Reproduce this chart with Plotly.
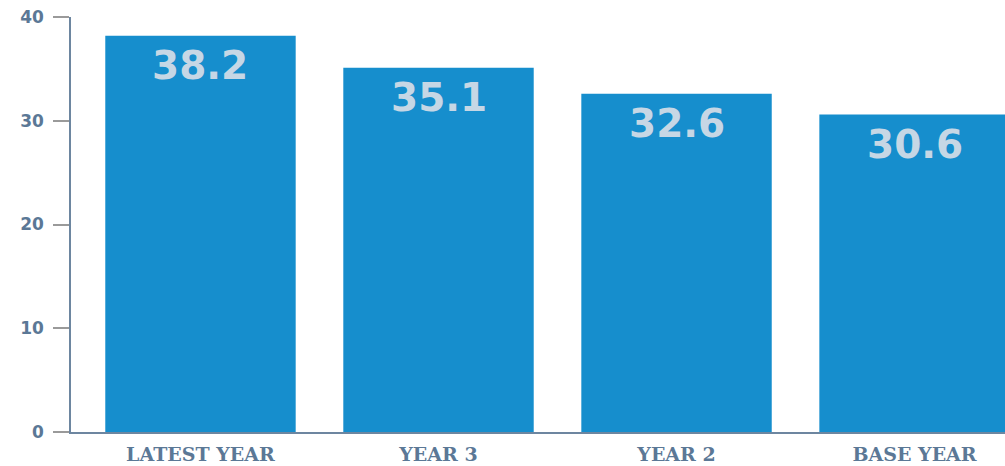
import plotly.graph_objects as go

categories = ["LATEST YEAR", "YEAR 3", "YEAR 2", "BASE YEAR"]
values = [38.2, 35.1, 32.6, 30.6]
tick_vals = [0, 10, 20, 30, 40]
tick_text = ["0", "10", "20", "30", "40"]

bar_color = "#168ecd"
label_color = "#c6d7e5"
axis_text = "#5b7896"

fig = go.Figure()
fig.add_trace(go.Bar(x=list(range(len(categories))), y=values, marker_color=bar_color,
                     marker_line_width=0, width=0.8, hoverinfo="skip"))

for i, v in enumerate(values):
    fig.add_annotation(x=i, y=v, text=f"{v:.1f}", showarrow=False, yanchor="top",
                       yshift=-5, font=dict(family="DejaVu Sans", size=39, color=label_color,
                                            weight="bold"))

fig.update_layout(
    width=1005, height=466,
    margin=dict(l=71, r=0, t=17, b=34),
    paper_bgcolor="white", plot_bgcolor="white",
    showlegend=False,
    bargap=0.2,
)
fig.update_xaxes(
    tickmode="array", tickvals=list(range(len(categories))), ticktext=categories,
    range=[-0.544, 3.380], showgrid=False, zeroline=False, automargin=False,
    showline=True, linecolor="#6d86a0", linewidth=1.5, ticks="",
    ticklabelstandoff=4, ticklabeloverflow="allow",
    tickfont=dict(family="DejaVu Serif", size=19, color=axis_text, weight="bold"),
)
fig.update_yaxes(
    range=[0, 40], tickvals=tick_vals, ticktext=tick_text, showgrid=False, zeroline=False,
    automargin=False,
    showline=True, linecolor="#6d86a0", linewidth=1.5,
    ticks="outside", ticklen=16, tickcolor="#9a9a9a", tickwidth=1.5,
    ticklabelstandoff=6, ticklabeloverflow="allow",
    tickfont=dict(family="DejaVu Sans", size=17, color=axis_text, weight="bold"),
)

fig.write_html("out.html", config={"displayModeBar": False},
               post_script="document.body.style.margin='0';document.body.style.overflow='hidden';")
